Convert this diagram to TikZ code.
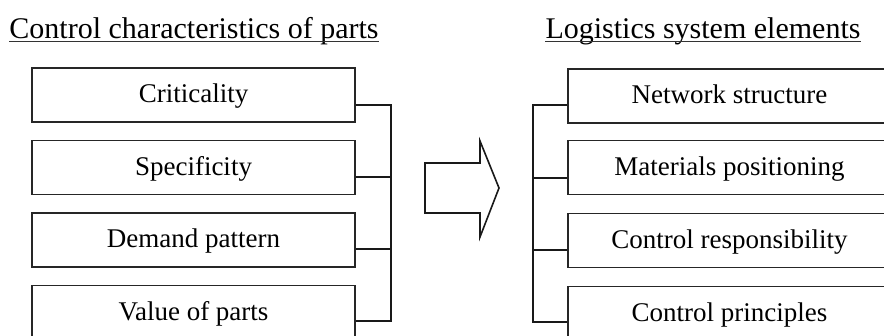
\documentclass[tikz,border=0pt]{standalone}
\usepackage{fontspec}
\setmainfont{Liberation Serif}
\begin{document}
\begin{tikzpicture}[x=1pt,y=-1pt,
  boxn/.style={draw=black!85,line width=1.6pt,minimum width=323pt,minimum height=54pt,inner sep=0pt,
    font=\fontsize{27}{30}\selectfont,text height=18pt,text depth=2pt},
  ttl/.style={inner sep=0pt,anchor=base,font=\fontsize{30}{34}\selectfont},
  conn/.style={draw=black!90,line width=1.6pt},
  ul/.style={draw=black!80,line width=1.3pt}]
\useasboundingbox (0,0) rectangle (884,336);
\clip (0,0) rectangle (884,336);
% titles
\node[ttl] (t1) at (194,39) {Control characteristics of parts};
\node[ttl] (t2) at (703,39) {Logistics system elements};
\draw[ul] ([yshift=-2.5pt]t1.base west) -- ([yshift=-2.5pt]t1.base east);
\draw[ul] ([yshift=-2.5pt]t2.base west) -- ([yshift=-2.5pt]t2.base east);
% left boxes
\node[boxn] (c1) at (193.5,95) {Criticality};
\node[boxn] (c2) at (193.5,167.5) {Specificity};
\node[boxn] (c3) at (193.5,240) {Demand pattern};
\node[boxn] (c4) at (193.5,312.5) {Value of parts};
% right boxes
\node[boxn] (r1) at (729.5,96) {Network structure};
\node[boxn] (r2) at (729.5,167.5) {Materials positioning};
\node[boxn] (r3) at (729.5,240.5) {Control responsibility};
\node[boxn] (r4) at (729.5,313.5) {Control principles};
% bracket coordinates
\coordinate (lx) at (391,0);
\coordinate (rx) at (533,0);
\draw[conn] ([yshift=-10pt]c1.east) -- ([yshift=-10pt]c1.east -| lx) -- ([yshift=-8.5pt]c4.east -| lx) -- ([yshift=-8.5pt]c4.east);
\draw[conn] ([yshift=-9.5pt]c2.east) -- ([yshift=-9.5pt]c2.east -| lx);
\draw[conn] ([yshift=-9pt]c3.east) -- ([yshift=-9pt]c3.east -| lx);
\draw[conn] ([yshift=-9pt]r1.west) -- ([yshift=-9pt]r1.west -| rx) -- ([yshift=-8.5pt]r4.west -| rx) -- ([yshift=-8.5pt]r4.west);
\draw[conn] ([yshift=-10.5pt]r2.west) -- ([yshift=-10.5pt]r2.west -| rx);
\draw[conn] ([yshift=-9.5pt]r3.west) -- ([yshift=-9.5pt]r3.west -| rx);
% big arrow
\draw[conn,line join=miter] (425,163) -- (480,163) -- (480,141) -- (499,188) -- (480,237) -- (480,213) -- (425,213) -- cycle;
\end{tikzpicture}
\end{document}
